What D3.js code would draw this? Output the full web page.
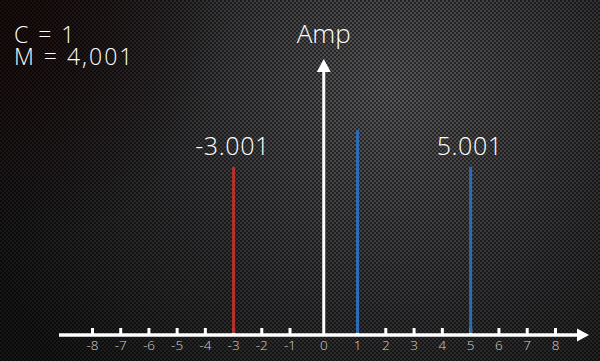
<!DOCTYPE html>
<html>
<head>
<meta charset="utf-8">
<script src="https://cdn.jsdelivr.net/npm/d3@7"></script>
<style>
  body { margin: 0; background: #111; }
  svg { display: block; }
  text { font-family: "Open Sans", "Roboto", "Liberation Sans", sans-serif; font-weight: 300; fill: #fff; }
</style>
</head>
<body>
<div id="chart"></div>
<script>
// spectrum lines: frequency, amplitude, colour key, label
var freqs = [-3.001, 1, 5.001];
var amps = [0.82, 1, 0.82];
var kinds = ["neg", "pos", "pos"];
var labels = ["-3.001", "", "5.001"];
var tickVals = [-8, -7, -6, -5, -4, -3, -2, -1, 0, 1, 2, 3, 4, 5, 6, 7, 8];
var params = ["C = 1", "M = 4,001"];

var width = 600, height = 361;
var axisY = 335;

var svg = d3.select("#chart").append("svg")
  .attr("width", width)
  .attr("height", height);

var defs = svg.append("defs");

var glow = defs.append("radialGradient")
  .attr("id", "glow")
  .attr("gradientUnits", "userSpaceOnUse")
  .attr("cx", 390).attr("cy", 90).attr("r", 430);
glow.append("stop").attr("offset", 0).attr("stop-color", "#59595b");
glow.append("stop").attr("offset", 0.55).attr("stop-color", "#303032");
glow.append("stop").attr("offset", 1).attr("stop-color", "#161617");

var corner = defs.append("radialGradient")
  .attr("id", "corner")
  .attr("gradientUnits", "userSpaceOnUse")
  .attr("cx", 0).attr("cy", 20).attr("r", 230);
corner.append("stop").attr("offset", 0).attr("stop-color", "#1a0c0c").attr("stop-opacity", 0.95);
corner.append("stop").attr("offset", 1).attr("stop-color", "#1a0c0c").attr("stop-opacity", 0);

var dots = defs.append("pattern")
  .attr("id", "dots")
  .attr("patternUnits", "userSpaceOnUse")
  .attr("width", 4).attr("height", 4);
dots.append("circle").attr("cx", 1).attr("cy", 1).attr("r", 1.1).attr("fill", "#000").attr("fill-opacity", 0.6);
dots.append("circle").attr("cx", 3).attr("cy", 3).attr("r", 1.1).attr("fill", "#000").attr("fill-opacity", 0.6);

svg.append("rect").attr("width", width).attr("height", height).attr("fill", "url(#glow)");
svg.append("rect").attr("width", width).attr("height", height).attr("fill", "url(#corner)");
svg.append("rect").attr("width", width).attr("height", height).attr("fill", "url(#dots)");

// the axis is wider around zero than between the other ticks
var x = d3.scaleLinear()
  .domain([-8, -1, 1, 8])
  .range([92.5, 290, 357.5, 555.5]);

var y = d3.scaleLinear()
  .domain([0, 1])
  .range([axisY, 130]);

var colour = d3.scaleOrdinal()
  .domain(["neg", "pos"])
  .range(["#b5312a", "#2d6cb5"]);

// horizontal axis
svg.append("line")
  .attr("x1", 59).attr("x2", 578)
  .attr("y1", axisY).attr("y2", axisY)
  .attr("stroke", "#fff").attr("stroke-width", 3.5);

svg.append("path")
  .attr("d", "M577," + (axisY - 6.5) + "L589," + axisY + "L577," + (axisY + 6.5) + "Z")
  .attr("fill", "#fff");

svg.selectAll(".tick")
  .data(tickVals.filter(function(d) { return d != 0; }))
  .enter().append("line")
  .attr("class", "tick")
  .attr("x1", function(d) { return x(d); })
  .attr("x2", function(d) { return x(d); })
  .attr("y1", axisY - 7).attr("y2", axisY)
  .attr("stroke", "#fff").attr("stroke-width", 3);

svg.selectAll(".tlabel")
  .data(tickVals)
  .enter().append("text")
  .attr("class", "tlabel")
  .attr("x", function(d) { return x(d); })
  .attr("y", 350)
  .attr("text-anchor", "middle")
  .style("font-size", "13.5px")
  .style("fill", "#d0d0d0")
  .text(function(d) { return d; });

// vertical axis
svg.append("line")
  .attr("x1", x(0)).attr("x2", x(0))
  .attr("y1", axisY).attr("y2", 70)
  .attr("stroke", "#fff").attr("stroke-width", 3);

svg.append("path")
  .attr("d", "M" + (x(0) - 7) + ",72L" + x(0) + ",59L" + (x(0) + 7) + ",72Z")
  .attr("fill", "#fff");

svg.append("text")
  .attr("x", x(0)).attr("y", 43)
  .attr("text-anchor", "middle")
  .style("font-size", "26px")
  .text("Amp");

// spectral lines
var lines = freqs.map(function(f, i) {
  return { f: f, a: amps[i], k: kinds[i], l: labels[i] };
});

svg.selectAll(".spike")
  .data(lines)
  .enter().append("line")
  .attr("class", "spike")
  .attr("x1", function(d) { return x(d.f); })
  .attr("x2", function(d) { return x(d.f); })
  .attr("y1", axisY - 2)
  .attr("y2", function(d) { return y(d.a); })
  .attr("stroke", function(d) { return colour(d.k); })
  .attr("stroke-width", 3);

svg.selectAll(".slabel")
  .data(lines.filter(function(d) { return d.l != ""; }))
  .enter().append("text")
  .attr("class", "slabel")
  .attr("x", function(d) { return x(d.f) - 1; })
  .attr("y", function(d) { return y(d.a) - 12; })
  .attr("text-anchor", "middle")
  .style("font-size", "25px")
  .style("letter-spacing", "0.6px")
  .text(function(d) { return d.l; });

// modulation parameters, one text block with a line each
var paramText = svg.append("text")
  .attr("class", "param")
  .attr("x", 14)
  .attr("y", 43)
  .style("font-size", "23px")
  .style("letter-spacing", "2px");

paramText.selectAll("tspan")
  .data(params)
  .enter().append("tspan")
  .attr("x", 14)
  .attr("dy", function(d, i) { return i == 0 ? 0 : 22; })
  .text(function(d) { return d; });
</script>
</body>
</html>
